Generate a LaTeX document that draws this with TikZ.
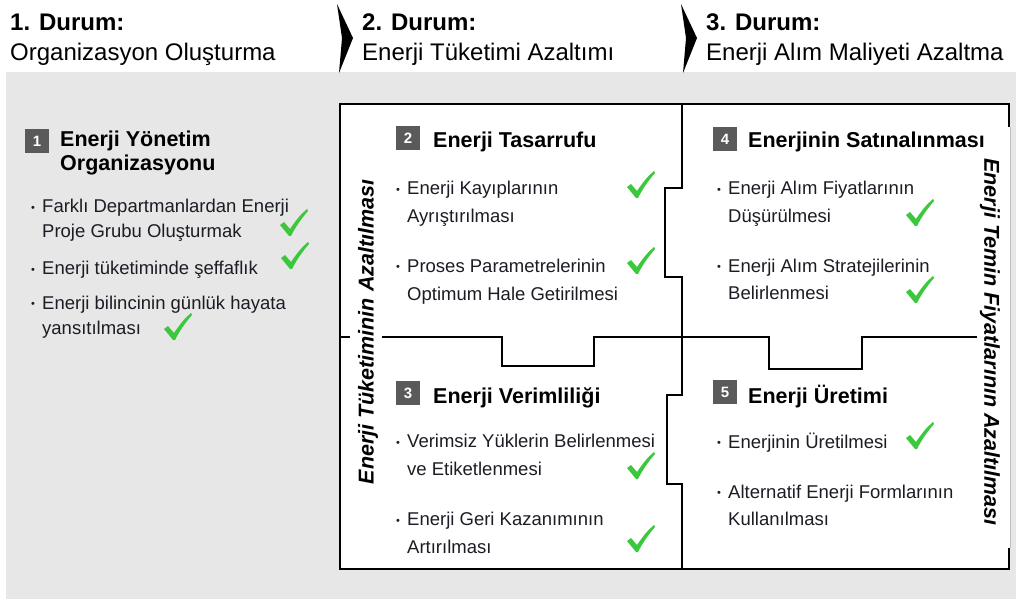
\documentclass[tikz,border=0pt]{standalone}
\usepackage{fontspec}
\setmainfont{Liberation Sans}
\usetikzlibrary{positioning}
\definecolor{bggray}{HTML}{E7E7E7}
\definecolor{numgray}{HTML}{5A5A5A}
\definecolor{tickgreen}{HTML}{3CC83C}
\definecolor{bodytext}{HTML}{1C1C24}
\newcommand\bul{\makebox[11pt][l]{\raisebox{1.5pt}{\fontsize{11}{11}\selectfont\textbullet}}}
\newcommand\nobul{\hspace*{11pt}}

\tikzset{
  hdrb/.style={font=\fontsize{24}{24}\selectfont\bfseries,anchor=base west,inner sep=0pt},
  hdr/.style={font=\fontsize{24}{24}\selectfont,anchor=base west,inner sep=0pt},
  numbox/.style={fill=numgray,text=white,font=\fontsize{15}{15}\selectfont\bfseries,minimum size=24pt,inner sep=0pt},
  ttl/.style={font=\fontsize{21.5}{24}\selectfont\bfseries,anchor=base west,inner sep=0pt,align=left},
  itm/.style={font=\fontsize{18.5}{27.5}\selectfont,text=bodytext,anchor=base west,inner sep=0pt,align=left},
  litm/.style={itm,font=\fontsize{18.5}{24.5}\selectfont},
  sidettl/.style={font=\fontsize{21.5}{21.5}\selectfont\bfseries\itshape,inner sep=0pt},
  wall/.style={line width=2.6pt,line join=miter},
  okmark/.pic={
    \fill[tickgreen] (-14,2) -- (-10,-1) -- (-4,6) .. controls (2,-3) and (7,-9) .. (13,-14)
      -- (14,-12) .. controls (7,-4) and (1,5) .. (-3,13) -- (-5,13) -- cycle;
  }
}

\begin{document}
\begin{tikzpicture}[x=1pt,y=-1pt]
\useasboundingbox (0,0) rectangle (1016,601);
% background
\fill[bggray] (6,72) rectangle (1016,599);
\fill (337,4) -- (353,38) -- (339,73) -- (342,38) -- cycle;
\fill (681,4) -- (697,38) -- (683,73) -- (686,38) -- cycle;

% headers
\node[hdrb] (d1) at (10,31) {1. Durum:};
\node[hdr] (o1) at (10,61) {Organizasyon Oluşturma};
\node[hdrb] (d2) at (362,31) {2. Durum:};
\node[hdr] (o2) at (362,61) {Enerji Tüketimi Azaltımı};
\node[hdrb] (d3) at (706,31) {3. Durum:};
\node[hdr] (o3) at (706,61) {Enerji Alım Maliyeti Azaltma};

% puzzle frame
\fill[white] (340,104) rectangle (1010,569);
\draw[gray!50,line width=0.8pt] (1010,127) -- (1010,548);
\draw[wall] (1009,127) -- (1009,104) -- (340,104) -- (340,569) -- (1009,569) -- (1009,548);
\draw[wall] (682,104) -- (682,188) -- (665,188) -- (665,277) -- (682,277) -- (682,395)
  -- (667,395) -- (667,484) -- (682,484) -- (682,569);
\draw[wall] (340,337) -- (350,337);
\draw[wall] (382,337) -- (502,337) -- (502,366) -- (594,366) -- (594,337) -- (769,337)
  -- (769,369) -- (862,369) -- (862,337) -- (977,337);

\node[sidettl,rotate=90] (side1) at (368,332) {Enerji Tüketiminin Azaltılması};
\node[sidettl,rotate=-90] (side2) at (990,342) {Enerji Temin Fiyatlarının Azaltılması};

% 1
\node[numbox] (n1) at (37,141) {1};
\node[ttl] (t1) at (60,171) {Enerji Yönetim\\Organizasyonu};
\node[litm] (b11) at (31,237.5) {\bul Farklı Departmanlardan Enerji\\\nobul Proje Grubu Oluşturmak};
\node[litm] (b12) at (31,275) {\bul Enerji tüketiminde şeffaflık};
\node[litm] (b13) at (31,334) {\bul Enerji bilincinin günlük hayata\\\nobul yansıtılması};
\pic at (294,223) {okmark};
\pic at (295,256) {okmark};
\pic at (178,327) {okmark};

% 2
\node[numbox] (n2) at (408,138.5) {2};
\node[ttl] (t2) at (433,148) {Enerji Tasarrufu};
\node[itm] (b21) at (396,222.5) {\bul Enerji Kayıplarının\\\nobul Ayrıştırılması};
\node[itm] (b22) at (396,300) {\bul Proses Parametrelerinin\\\nobul Optimum Hale Getirilmesi};
\pic at (641,185) {okmark};
\pic at (641,261) {okmark};

% 4
\node[numbox] (n4) at (725,139) {4};
\node[ttl] (t4) at (748,148) {Enerjinin Satınalınması};
\node[itm] (b41) at (717,222.5) {\bul Enerji Alım Fiyatlarının\\\nobul Düşürülmesi};
\node[itm] (b42) at (717,299.5) {\bul Enerji Alım Stratejilerinin\\\nobul Belirlenmesi};
\pic at (920,213) {okmark};
\pic at (920,290) {okmark};

% 3
\node[numbox] (n3) at (408,393) {3};
\node[ttl] (t3) at (433,403) {Enerji Verimliliği};
\node[itm] (b31) at (396,475) {\bul Verimsiz Yüklerin Belirlenmesi\\\nobul ve Etiketlenmesi};
\node[itm] (b32) at (396,553) {\bul Enerji Geri Kazanımının\\\nobul Artırılması};
\pic at (641,466) {okmark};
\pic at (641,539) {okmark};

% 5
\node[numbox] (n5) at (725,392) {5};
\node[ttl] (t5) at (748,403) {Enerji Üretimi};
\node[itm] (b51) at (717,448) {\bul Enerjinin Üretilmesi};
\node[itm] (b52) at (717,525.5) {\bul Alternatif Enerji Formlarının\\\nobul Kullanılması};
\pic at (920,436) {okmark};
\end{tikzpicture}
\end{document}
